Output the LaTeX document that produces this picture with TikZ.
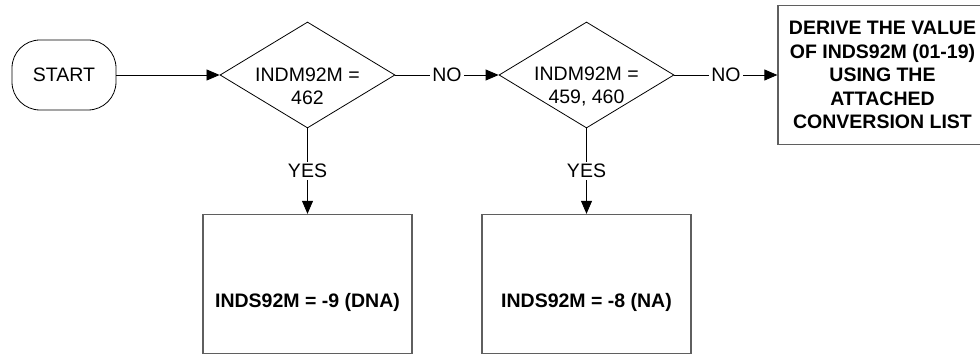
\documentclass[tikz,border=0pt]{standalone}
\usepackage{fontspec}
\setmainfont{Liberation Sans}
\usetikzlibrary{shapes.geometric,arrows.meta}

\begin{document}
\begin{tikzpicture}[x=1pt,y=-1pt,
  txt/.style={font=\fontsize{19.5}{23.4}\selectfont, text=black},
  txtbold/.style={font=\fontsize{19.5}{23.4}\selectfont\bfseries, text=black},
  term/.style={draw, line width=0.8pt, rounded corners=28pt, minimum width=104pt, minimum height=70pt, txt},
  decision/.style={draw, diamond, aspect=1.65, inner sep=0pt, minimum width=175pt, minimum height=106pt, line width=0.8pt},
  proc/.style={draw=boxgray, line width=1.3pt, minimum width=209pt, minimum height=139pt},
  flow/.style={-{Triangle[length=13pt,width=11pt]}, line width=0.8pt},
  tag/.style={txt, fill=white, inner sep=2pt}]
  \definecolor{boxgray}{RGB}{95,95,95}
  \useasboundingbox (0,0) rectangle (980,355);

  \node[term] (start) at (64,75) {START};

  % two tests, each with its YES result below
  \foreach \n/\xx/\cond/\res in {1/307.5/462/{-9 (DNA)}, 2/586.5/{459, 460}/{-8 (NA)}} {
    \node[decision] (dec\n) at (\xx,75) {};
    \node[txt, align=center] (cond\n) at ([yshift=-11.5pt]dec\n.center) {INDM92M =\\\cond};
    \node[proc] (res\n) at (\xx,284) {};
    \node[txtbold] (val\n) at ([yshift=-18pt]res\n.center) {INDS92M = \res};
    \draw[flow] (dec\n) -- node[tag] {YES} (res\n);
  }

  \node[proc, txtbold, align=center] (derive) at (882.5,75) {DERIVE THE VALUE\\OF INDS92M (01-19)\\USING THE\\ATTACHED\\CONVERSION LIST};

  \draw[flow] (start) -- (dec1);
  \draw[flow] (dec1) -- node[tag] {NO} (dec2);
  \draw[flow] (dec2) -- node[tag] {NO} (derive);
\end{tikzpicture}
\end{document}
